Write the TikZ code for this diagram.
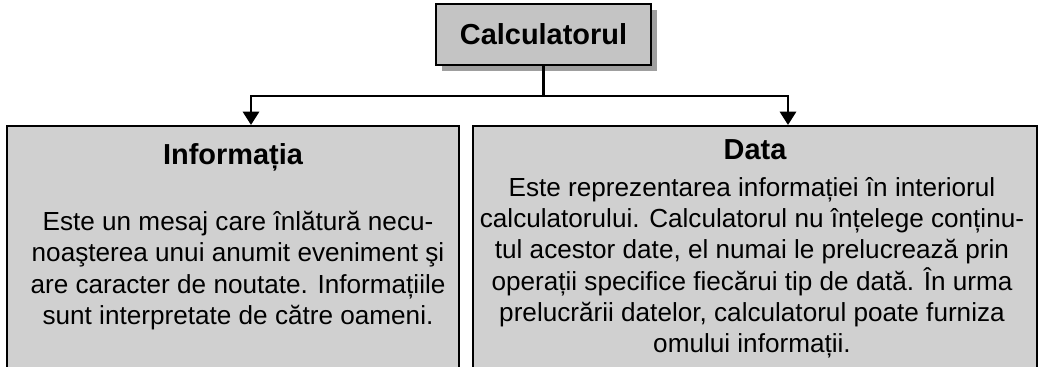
\documentclass[tikz,border=0pt]{standalone}
\usepackage{fontspec}
\setmainfont{Liberation Sans}
\usetikzlibrary{arrows.meta,positioning,shadows}
\definecolor{boxgray}{RGB}{208,208,208}
\definecolor{topgray}{RGB}{196,196,196}
\tikzset{
  panel/.style={rectangle,draw=black,line width=1.5pt,fill=boxgray,inner sep=0pt},
  headbox/.style={panel,fill=topgray,minimum width=161pt,minimum height=45.75pt,
    drop shadow={shadow xshift=4.5pt,shadow yshift=-4.5pt,fill=gray!75,opacity=1}},
  heading/.style={font=\fontsize{21.7}{26}\selectfont\bfseries,inner sep=0pt},
  bodytext/.style={font=\fontsize{19.6}{23.5}\selectfont,align=center,inner sep=0pt},
  link/.style={line width=2.2pt},
}
\begin{document}
\begin{tikzpicture}[x=0.75pt,y=-0.75pt]
\useasboundingbox (0,0) rectangle (1043,367);
\fill[white] (0,0) rectangle (1043,367);
\clip (0,0) rectangle (1043,367);
% boxes
\node (calc) [headbox,heading] at (543.5,34.5) {Calculatorul};
\node (infobox) [panel,minimum width=339pt,minimum height=195pt,anchor=north] at (233,125) {};
\node (databox) [panel,minimum width=423pt,minimum height=195pt,anchor=north] at (755,125) {};
%
\node (infotitle) [heading,anchor=base] at (233,165) {Informația};
\node (datatitle) [heading,anchor=base] at (755,160) {Data};
\node (infotext) [bodytext,anchor=north] at (238,211) {Este un mesaj care înlătură necu-\\
noaşterea unui anumit eveniment şi\\
are caracter de noutate. Informațiile\\
sunt interpretate de către oameni.};
\node (datatext) [bodytext,anchor=north] at (752,177) {Este reprezentarea informației în interiorul\\
calculatorului. Calculatorul nu înțelege conținu-\\
tul acestor date, el numai le prelucrează prin\\
operații specifice fiecărui tip de dată. În urma\\
prelucrării datelor, calculatorul poate furniza\\
omului informații.};
% connectors
\coordinate (split) at (543.5,96);
\coordinate (infotip) at (251,125);
\coordinate (datatip) at (788,125);
\draw[link] (calc.south) -- (split);
\draw[link,-{Triangle[width=12pt,length=10pt]}] (split) -| (infotip);
\draw[link,-{Triangle[width=12pt,length=10pt]}] (split) -| (datatip);
\end{tikzpicture}
\end{document}
